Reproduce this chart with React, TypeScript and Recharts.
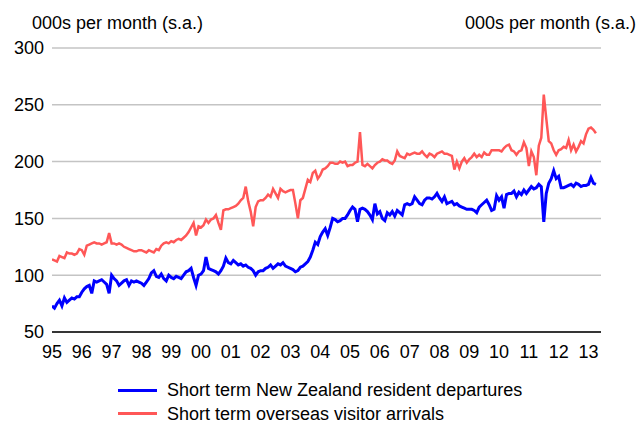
import { LineChart, Line, XAxis, YAxis, CartesianGrid } from 'recharts';

// Short term movements, 000s per month, seasonally adjusted, monthly from Jan 1995
const departures = [
  73, 71, 75, 78, 73, 80, 76, 78, 80, 79, 81, 81,
  85, 88, 90, 91, 84, 95, 94, 95, 96, 94, 92, 84,
  100, 97, 95, 91, 93, 95, 96, 91, 95, 94, 95, 94,
  93, 91, 94, 97, 102, 104, 99, 98, 101, 97, 95, 100,
  98, 97, 99, 98, 97, 100, 103, 104, 106, 98, 91, 100,
  101, 104, 116, 106, 105, 104, 103, 101, 104, 108, 115, 111,
  110, 113, 111, 109, 110, 108, 109, 107, 106, 104, 100, 103,
  104, 104, 106, 107, 109, 106, 108, 110, 109, 111, 108, 107,
  106, 105, 103, 104, 107, 108, 110, 112, 116, 122, 129, 127,
  134, 138, 141, 135, 142, 150, 149, 147, 148, 150, 150, 153,
  157, 160, 158, 147, 158, 159, 158, 156, 153, 149, 163, 154,
  156, 150, 148, 155, 153, 156, 152, 157, 155, 153, 162, 163,
  162, 163, 169, 166, 163, 162, 166, 168, 168, 167, 169, 172,
  168, 165, 169, 163, 164, 165, 162, 163, 161, 160, 159, 158,
  158, 158, 157, 155, 160, 162, 164, 166, 162, 157, 158, 170,
  166, 169, 159, 171, 172, 172, 174, 169, 173, 171, 175, 172,
  175, 178, 176, 177, 180, 178, 147, 172, 181, 185, 192, 185,
  187, 177, 177, 178, 179, 180, 178, 181, 180, 178, 179, 179,
  180, 186, 181, 180,
];

const arrivals = [
  114, 113, 112, 117, 116, 115, 120, 119, 119, 118, 119, 123,
  122, 118, 126, 127, 128, 129, 128, 128, 127, 128, 129, 137,
  128, 128, 127, 128, 127, 125, 124, 123, 122, 121, 121, 122,
  122, 121, 120, 122, 121, 120, 123, 122, 126, 128, 129, 128,
  130, 129, 131, 132, 131, 133, 135, 138, 142, 146, 135, 143,
  142, 144, 149, 146, 149, 150, 153, 146, 140, 157, 158, 158,
  159, 160, 161, 163, 166, 168, 178, 165, 156, 143, 160, 165,
  166, 166, 168, 171, 169, 176, 172, 168, 176, 174, 173, 174,
  175, 175, 163, 150, 166, 168, 176, 184, 182, 190, 192, 185,
  188, 193, 194, 196, 199, 199, 198, 198, 200, 199, 200, 196,
  197, 197, 199, 200, 226, 197, 196, 198, 196, 194, 197, 199,
  200, 202, 201, 201, 199, 198, 201, 209, 205, 204, 203, 207,
  206, 207, 208, 207, 207, 209, 206, 204, 207, 206, 204, 207,
  208, 209, 207, 207, 206, 205, 193, 200, 194, 200, 203, 199,
  202, 204, 207, 204, 206, 204, 208, 206, 206, 210, 210, 210,
  210, 209, 212, 214, 215, 210, 209, 206, 209, 210, 217, 212,
  196, 209, 204, 188, 214, 221, 259, 238, 218, 216, 210, 206,
  210, 211, 213, 212, 219, 210, 215, 209, 213, 218, 216, 224,
  229, 230, 228, 225,
];

const years = [1995, 1996, 1997, 1998, 1999, 2000, 2001, 2002, 2003, 2004, 2005, 2006, 2007, 2008, 2009, 2010, 2011, 2012, 2013];
const yTicks = [50, 100, 150, 200, 250, 300];

const START = 1995;

const data = departures.map((d, i) => ({
  t: START + i / 12,
  departures: d,
  arrivals: arrivals[i],
}));

const font = '"Liberation Sans", Arial, sans-serif';
const tickStyle = { fontFamily: font, fontSize: 18, fill: '#000' };

export default function App() {
  return (
    <div style={{ position: 'absolute', left: 0, top: 0, width: 641, height: 426, background: '#fff', fontFamily: font }}>
      <LineChart width={641} height={426} data={data} margin={{ top: 48, right: 0, bottom: 64, left: 0 }}>
        <CartesianGrid yAxisId="left" vertical={false} stroke="#c4c4c4" strokeWidth={1.5} />
        <XAxis
          dataKey="t"
          type="number"
          domain={[START, 2013.42]}
          ticks={years}
          tickFormatter={(v: number) => String(v).slice(2)}
          allowDataOverflow
          height={30}
          tickLine={false}
          tickSize={0}
          tickMargin={13}
          axisLine={{ stroke: '#000', strokeWidth: 1.5 }}
          tick={tickStyle}
          interval={0}
        />
        <YAxis
          yAxisId="left"
          orientation="left"
          width={52}
          domain={[50, 300]}
          ticks={yTicks}
          axisLine={false}
          tickLine={false}
          tickSize={0}
          tickMargin={8}
          tick={tickStyle}
          interval={0}
        />
        <YAxis
          yAxisId="right"
          orientation="right"
          width={40}
          domain={[50, 300]}
          ticks={yTicks}
          axisLine={false}
          tickLine={false}
          tickSize={0}
          tickMargin={7}
          tick={tickStyle}
          interval={0}
        />
        <Line yAxisId="left" type="linear" dataKey="arrivals" stroke="#ff5757" strokeWidth={2.5} dot={false} isAnimationActive={false} />
        <Line yAxisId="left" type="linear" dataKey="departures" stroke="#0000ff" strokeWidth={3} dot={false} isAnimationActive={false} />
      </LineChart>

      <div style={{ position: 'absolute', left: 32, top: 14, fontSize: 18, lineHeight: '18px', whiteSpace: 'nowrap' }}>
        000s per month (s.a.)
      </div>
      <div style={{ position: 'absolute', right: 5, top: 14, fontSize: 18, lineHeight: '18px', whiteSpace: 'nowrap' }}>
        000s per month (s.a.)
      </div>

      <div style={{ position: 'absolute', left: 118, top: 389, width: 39, height: 3, background: '#0000ff' }} />
      <div style={{ position: 'absolute', left: 167, top: 381, fontSize: 18, lineHeight: '18px', whiteSpace: 'nowrap' }}>
        Short term New Zealand resident departures
      </div>
      <div style={{ position: 'absolute', left: 118, top: 412, width: 39, height: 3, background: '#ff5757' }} />
      <div style={{ position: 'absolute', left: 167, top: 405, fontSize: 18, lineHeight: '18px', whiteSpace: 'nowrap' }}>
        Short term overseas visitor arrivals
      </div>
    </div>
  );
}
